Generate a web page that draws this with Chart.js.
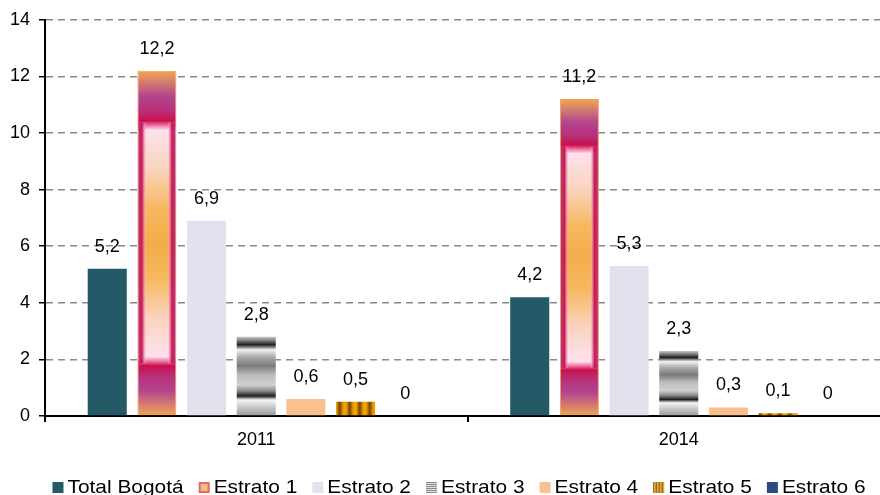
<!DOCTYPE html>
<html>
<head>
<meta charset="utf-8">
<script src="https://cdn.jsdelivr.net/npm/chart.js@4/dist/chart.umd.min.js"></script>
<style>
html,body{margin:0;padding:0;background:#fff;overflow:hidden;width:880px;height:495px;}
canvas{display:block;}
</style>
</head>
<body>
<canvas id="c" width="890" height="495"></canvas>
<script>
// ---- data ----
const categories = ['2011', '2014'];
const seriesNames = ['Total Bogotá', 'Estrato 1', 'Estrato 2', 'Estrato 3', 'Estrato 4', 'Estrato 5', 'Estrato 6'];
const totalBogota = [5.2, 4.2];
const estrato1 = [12.2, 11.2];
const estrato2 = [6.9, 5.3];
const estrato3 = [2.8, 2.3];
const estrato4 = [0.6, 0.3];
const estrato5 = [0.5, 0.1];
const estrato6 = [0, 0];
const yTicks = [0, 2, 4, 6, 8, 10, 12, 14];

const FONT = '"Liberation Sans", Arial, sans-serif';

// ---- fills ----
function barBounds(ctx) {
  const chart = ctx.chart;
  const y = chart.scales && chart.scales.y;
  if (!y || ctx.type !== 'data') return null;
  const T = y.getPixelForValue(ctx.raw);
  const B = y.getPixelForValue(0);
  if (!isFinite(T) || !isFinite(B) || B - T < 0.5) return null;
  return {T, B};
}
function estrato1Fill(ctx) {
  const b = barBounds(ctx);
  if (!b) return '#F2A64E';
  const g = ctx.chart.ctx.createLinearGradient(0, b.T, 0, b.B);
  const half = [
    [0, '#F2A64E'], [0.035, '#D27A72'], [0.075, '#B2448C'], [0.115, '#B8307A'],
    [0.145, '#C8104E'], [0.158, '#F070A0'], [0.172, '#FDE2EC'], [0.28, '#FAD4C0'],
    [0.40, '#F6B860'], [0.5, '#F4AC48']
  ];
  half.forEach(([o, c]) => g.addColorStop(o, c));
  half.slice().reverse().forEach(([o, c]) => { if (o < 0.5) g.addColorStop(1 - o, c); });
  return g;
}
function estrato3Fill(ctx) {
  const b = barBounds(ctx);
  if (!b) return '#cccccc';
  const g = ctx.chart.ctx.createLinearGradient(0, b.T, 0, b.B);
  const stops = [
    [0, '#c8c8c8'], [4, '#7a7a7a'], [8, '#1e1e1e'], [13, '#f2f2f2'], [20, '#acacac'],
    [29, '#7a7a7a'], [38, '#bcbcbc'], [48, '#d0d0d0'], [54, '#8a8a8a'], [59, '#1e1e1e'],
    [63, '#f5f5f5'], [69, '#cfcfcf'], [79, '#9a9a9a']
  ];
  stops.forEach(([o, c]) => g.addColorStop(Math.min(1, o / 79), c));
  return g;
}
const estrato5Pattern = document.getElementById('c').getContext('2d').createPattern((() => {
  const cv = document.createElement('canvas'); cv.width = 10; cv.height = 4;
  const c = cv.getContext('2d');
  const g = c.createLinearGradient(0, 0, 10, 0);
  g.addColorStop(0, '#7a4800'); g.addColorStop(0.3, '#e59a00');
  g.addColorStop(0.6, '#f7a800'); g.addColorStop(1, '#6a3c00');
  c.fillStyle = g; c.fillRect(0, 0, 10, 4); return cv;
})(), 'repeat');

const colors = ['#245A68', estrato1Fill, '#E4E0EE', estrato3Fill, '#F9C090', estrato5Pattern, '#2B4C7E'];
const seriesData = [totalBogota, estrato1, estrato2, estrato3, estrato4, estrato5, estrato6];

// ---- plugins ----
const estrato1Overlay = {
  id: 'estrato1Overlay',
  afterDatasetDraw(chart, args) {
    if (args.index !== 1) return;
    const c = chart.ctx;
    args.meta.data.forEach(el => {
      const p = el.getProps(['x', 'y', 'base', 'width'], true);
      const L = p.x - p.width / 2, R = p.x + p.width / 2, H = p.base - p.y;
      if (H < 5) return;
      const y0 = p.y + 0.15 * H, y1 = p.y + 0.85 * H;
      c.save();
      [[L + 1, L + 9], [R - 1, R - 9]].forEach(([a, b]) => {
        const g = c.createLinearGradient(a, 0, b, 0);
        g.addColorStop(0, 'rgba(180,60,130,1)');
        g.addColorStop(0.45, 'rgba(200,16,78,0.95)');
        g.addColorStop(0.75, 'rgba(240,120,170,0.6)');
        g.addColorStop(1, 'rgba(253,226,236,0)');
        c.fillStyle = g;
        c.fillRect(Math.min(a, b), y0, 8, y1 - y0);
      });
      c.restore();
    });
  }
};

const valueLabels = {
  id: 'valueLabels',
  afterDatasetsDraw(chart) {
    const c = chart.ctx;
    c.save();
    c.font = '18px ' + FONT;
    c.fillStyle = '#000';
    c.textAlign = 'center';
    c.textBaseline = 'middle';
    chart.data.datasets.forEach((ds, i) => {
      const meta = chart.getDatasetMeta(i);
      meta.data.forEach((el, j) => {
        const v = ds.data[j];
        c.fillText(String(v).replace('.', ','), el.x, el.y - 22);
      });
    });
    c.restore();
  }
};

function drawLegendBox(c, i, x, y, s) {
  if (i === 1) {
    c.fillStyle = '#E2686E'; c.fillRect(x, y, s, s);
    c.fillStyle = '#F7B98A'; c.fillRect(x + 2, y + 2, s - 4, s - 4);
    c.fillStyle = '#F5C860'; c.fillRect(x + 4, y + 4, s - 8, s - 8);
  } else if (i === 3) {
    for (let k = 0; k < s; k++) {
      c.fillStyle = (k % 2 === 0) ? '#8a8a8a' : '#e0e0e0';
      c.fillRect(x, y + k, s, 1);
    }
  } else if (i === 5) {
    for (let k = 0; k < s; k++) {
      c.fillStyle = (k % 3 === 0) ? '#7a4800' : (k % 3 === 1 ? '#e59a00' : '#c07800');
      c.fillRect(x + k, y, 1, s);
    }
  } else {
    c.fillStyle = typeof colors[i] === 'string' ? colors[i] : '#ccc';
    c.fillRect(x, y, s, s);
  }
}

const customLegend = {
  id: 'customLegend',
  afterDraw(chart) {
    const c = chart.ctx;
    const box = 11, gapBoxText = 4, gapItems = 15, sx = 1.1;
    c.save();
    c.font = '19px ' + FONT;
    const widths = seriesNames.map(n => c.measureText(n).width * sx);
    const total = widths.reduce((a, w) => a + box + gapBoxText + w, 0) + gapItems * (seriesNames.length - 1);
    let x = 459 - total / 2;
    const baseline = 493;
    seriesNames.forEach((n, i) => {
      drawLegendBox(c, i, x, baseline - box, box);
      x += box + gapBoxText;
      c.save();
      c.translate(x, baseline);
      c.scale(sx, 1);
      c.fillStyle = '#000';
      c.textBaseline = 'alphabetic';
      c.textAlign = 'left';
      c.fillText(n, 0, 0);
      c.restore();
      x += widths[i] + gapItems;
    });
    c.restore();
  }
};

// ---- chart ----
new Chart(document.getElementById('c'), {
  type: 'bar',
  data: {
    labels: categories,
    datasets: seriesNames.map((name, i) => ({
      label: name,
      data: seriesData[i],
      backgroundColor: colors[i],
      borderColor: i === 1 ? '#F0A050' : 'rgba(0,0,0,0)',
      borderWidth: i === 1 ? 1 : 0,
      categoryPercentage: 0.823,
      barPercentage: 0.786
    }))
  },
  options: {
    responsive: false,
    animation: false,
    layout: { padding: { top: 12, left: 0, right: 0, bottom: 39 } },
    plugins: { legend: { display: false }, tooltip: { enabled: false } },
    scales: {
      x: {
        grid: { display: true, drawOnChartArea: false, color: '#000', tickLength: 6, lineWidth: 2 },
        border: { color: '#000', width: 2 },
        ticks: { color: '#000', font: { family: FONT, size: 18 }, padding: 7 },
        afterFit(s) { s.height = 40; }
      },
      y: {
        min: 0, max: 14,
        afterBuildTicks(s) { s.ticks = yTicks.map(v => ({ value: v })); },
        grid: { color: '#8a8a8a', lineWidth: 1.5, tickColor: '#000', tickLength: 6, tickWidth: 1.5, tickBorderDash: [] },
        border: { color: '#000', width: 2, dash: [7, 5] },
        ticks: { color: '#000', font: { family: FONT, size: 18 }, padding: 9 },
        afterFit(s) { s.width = 45; }
      }
    }
  },
  plugins: [estrato1Overlay, valueLabels, customLegend]
});
</script>
</body>
</html>
